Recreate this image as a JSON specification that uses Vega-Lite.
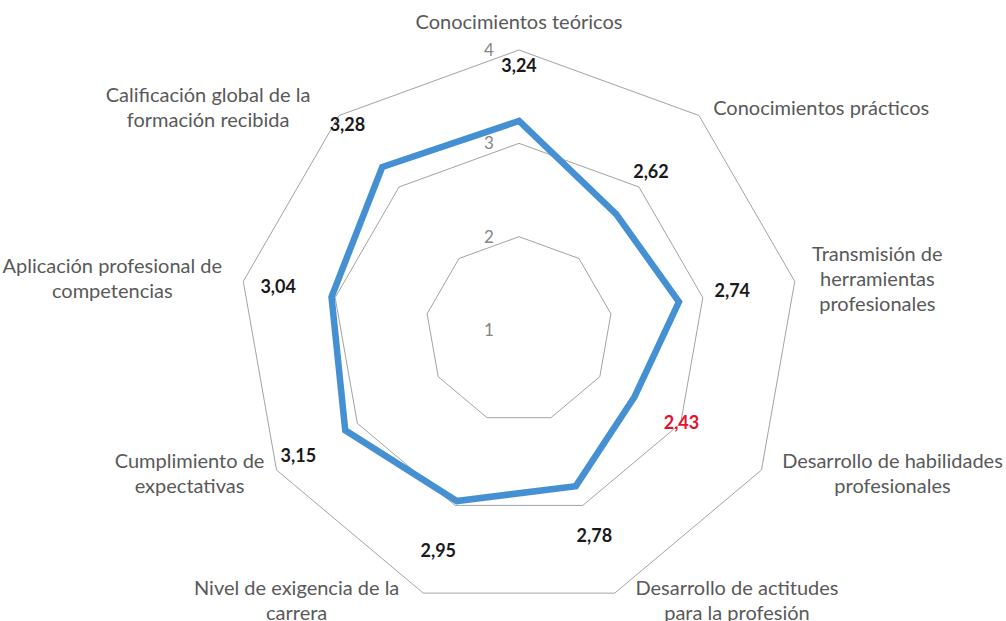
{
  "$schema": "https://vega.github.io/schema/vega-lite/v6.json",
  "width": 1006,
  "height": 621,
  "autosize": {"type": "none"},
  "padding": 0,
  "background": "white",
  "config": {
    "view": {"stroke": null},
    "font": "Lato",
    "locale": {"number": {"decimal": ",", "thousands": ".", "grouping": [3], "currency": ["", " €"]}}
  },
  "datasets": {
    "scores": [
      {"i": 0, "category": "Conocimientos teóricos", "value": 3.24},
      {"i": 1, "category": "Conocimientos prácticos", "value": 2.62},
      {"i": 2, "category": "Transmisión de\nherramientas\nprofesionales", "value": 2.74},
      {"i": 3, "category": "Desarrollo de habilidades\nprofesionales", "value": 2.43},
      {"i": 4, "category": "Desarrollo de actitudes\npara la profesión", "value": 2.78},
      {"i": 5, "category": "Nivel de exigencia de la\ncarrera", "value": 2.95},
      {"i": 6, "category": "Cumplimiento de\nexpectativas", "value": 3.15},
      {"i": 7, "category": "Aplicación profesional de\ncompetencias", "value": 3.04},
      {"i": 8, "category": "Calificación global de la\nformación recibida", "value": 3.28}
    ],
    "grid": [
      {"level": 2, "i": 0}, {"level": 2, "i": 1}, {"level": 2, "i": 2}, {"level": 2, "i": 3}, {"level": 2, "i": 4},
      {"level": 2, "i": 5}, {"level": 2, "i": 6}, {"level": 2, "i": 7}, {"level": 2, "i": 8},
      {"level": 3, "i": 0}, {"level": 3, "i": 1}, {"level": 3, "i": 2}, {"level": 3, "i": 3}, {"level": 3, "i": 4},
      {"level": 3, "i": 5}, {"level": 3, "i": 6}, {"level": 3, "i": 7}, {"level": 3, "i": 8},
      {"level": 4, "i": 0}, {"level": 4, "i": 1}, {"level": 4, "i": 2}, {"level": 4, "i": 3}, {"level": 4, "i": 4},
      {"level": 4, "i": 5}, {"level": 4, "i": 6}, {"level": 4, "i": 7}, {"level": 4, "i": 8}
    ],
    "ticks": [{"level": 1}, {"level": 2}, {"level": 3}, {"level": 4}]
  },
  "encoding": {
    "x": {"field": "px", "type": "quantitative", "scale": {"domain": [-5.561, 5.218], "nice": false, "zero": false}, "axis": null},
    "y": {"field": "py", "type": "quantitative", "scale": {"domain": [-3.118, 3.536], "nice": false, "zero": false}, "axis": null}
  },
  "layer": [
    {
      "data": {"name": "grid"},
      "transform": [
        {"calculate": "datum.i * 2 * PI / 9", "as": "ang"},
        {"calculate": "(datum.level - 1) * sin(datum.ang)", "as": "px"},
        {"calculate": "(datum.level - 1) * cos(datum.ang)", "as": "py"}
      ],
      "mark": {"type": "line", "interpolate": "linear-closed", "color": "#a3a3a3", "strokeWidth": 1},
      "encoding": {
        "detail": {"field": "level", "type": "nominal"},
        "order": {"field": "i", "type": "quantitative"}
      }
    },
    {
      "data": {"name": "scores"},
      "transform": [
        {"calculate": "datum.i * 2 * PI / 9", "as": "ang"},
        {"calculate": "(datum.value - 1) * sin(datum.ang)", "as": "px"},
        {"calculate": "(datum.value - 1) * cos(datum.ang)", "as": "py"}
      ],
      "mark": {"type": "line", "interpolate": "linear-closed", "color": "#4590d3", "strokeWidth": 6.5, "strokeJoin": "miter"},
      "encoding": {
        "order": {"field": "i", "type": "quantitative"}
      }
    },
    {
      "data": {"name": "ticks"},
      "transform": [
        {"calculate": "0", "as": "px"},
        {"calculate": "datum.level - 1", "as": "py"}
      ],
      "mark": {"type": "text", "dx": -30, "dy": 1, "fontSize": 17, "color": "#858585", "align": "center", "baseline": "middle"},
      "encoding": {
        "text": {"field": "level", "type": "quantitative"}
      }
    },
    {
      "data": {"name": "scores"},
      "transform": [
        {"calculate": "datum.i * 2 * PI / 9", "as": "ang"},
        {"calculate": "(datum.value - 1 + 0.58) * sin(datum.ang)", "as": "px"},
        {"calculate": "(datum.value - 1 + 0.58) * cos(datum.ang)", "as": "py"}
      ],
      "mark": {"type": "text", "fontSize": 18, "fontWeight": "bold", "align": "center", "baseline": "middle"},
      "encoding": {
        "text": {"field": "value", "type": "quantitative", "format": ".2f"},
        "color": {"condition": {"test": "datum.value < 2.5", "value": "#e8112d"}, "value": "#1a1a1a"}
      }
    },
    {
      "data": {"name": "scores"},
      "transform": [
        {"calculate": "datum.i * 2 * PI / 9", "as": "ang"},
        {"calculate": "split(datum.category, '\\n')", "as": "lines"},
        {"calculate": "max(length(datum.lines[0]), datum.lines.length > 1 ? length(datum.lines[1]) : 0, datum.lines.length > 2 ? length(datum.lines[2]) : 0)", "as": "maxlen"},
        {"calculate": "sin(datum.ang) > 0.3 ? 1 : (sin(datum.ang) < -0.3 ? -1 : 0)", "as": "side"},
        {"calculate": "3 * sin(datum.ang) + datum.side * (21 + 4.4 * datum.maxlen) / 93.33", "as": "px"},
        {"calculate": "3 * cos(datum.ang) + ((datum.side == 0 ? 27 : 9) * cos(datum.ang) + (datum.lines.length - 1) * 12.5) / 93.33", "as": "py"}
      ],
      "mark": {"type": "text", "fontSize": 20, "color": "#595959", "align": "center", "baseline": "middle", "lineBreak": "\n", "lineHeight": 25},
      "encoding": {
        "text": {"field": "category", "type": "nominal"}
      }
    }
  ]
}
